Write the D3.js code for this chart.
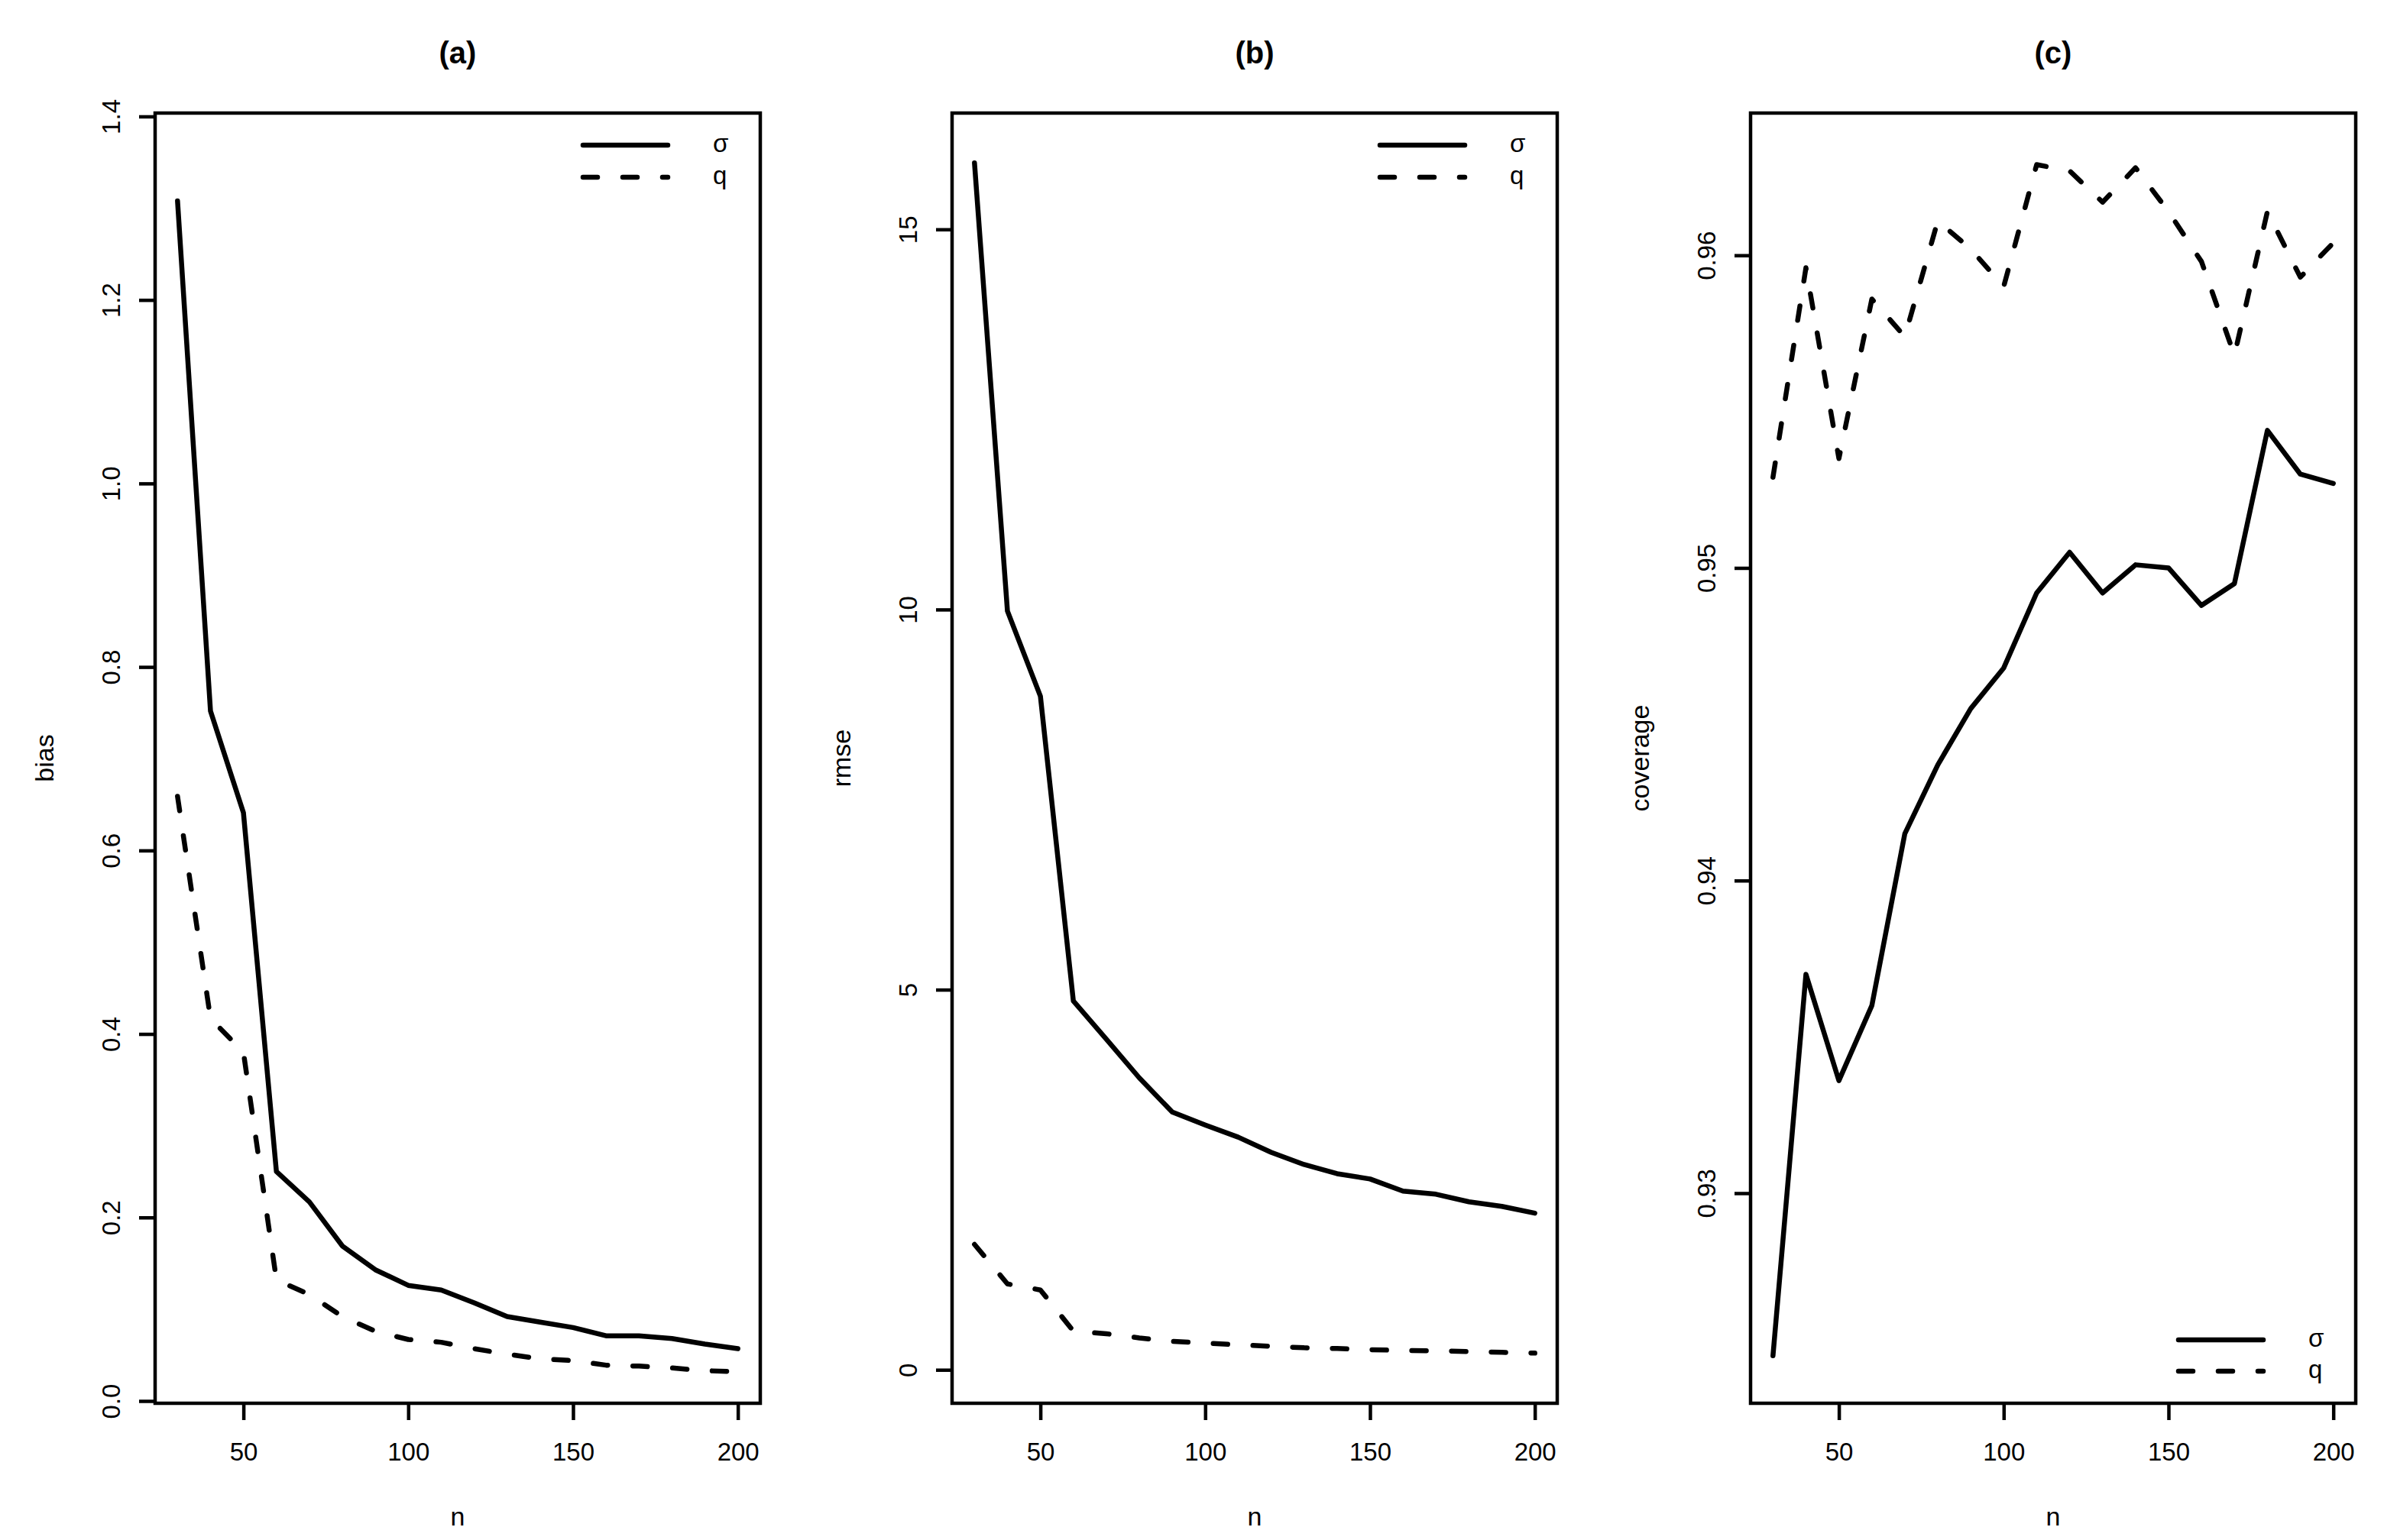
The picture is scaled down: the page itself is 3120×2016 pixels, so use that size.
<!DOCTYPE html>
<html>
<head>
<meta charset="utf-8">
<script src="https://cdn.jsdelivr.net/npm/d3@7"></script>
<style>
  body { margin: 0; background: #fff; }
  svg { display: block; font-family: 'Liberation Sans', Arial, sans-serif; }
</style>
</head>
<body>
<script>
// sample sizes (x axis)
const n = [30, 40, 50, 60, 70, 80, 90, 100, 110, 120, 130, 140, 150, 160, 170, 180, 190, 200];
const xTicks = [50, 100, 150, 200];

// panel (a) bias
const biasSigma = [1.308, 0.752, 0.641, 0.250, 0.217, 0.169, 0.143, 0.126, 0.121, 0.107, 0.092, 0.086, 0.080, 0.071, 0.071, 0.068, 0.062, 0.057];
const biasQ = [0.659, 0.417, 0.380, 0.132, 0.116, 0.092, 0.076, 0.067, 0.064, 0.057, 0.051, 0.046, 0.044, 0.039, 0.038, 0.036, 0.033, 0.032];

// panel (b) rmse
const rmseSigma = [15.875, 9.98, 8.86, 4.85, 4.35, 3.84, 3.39, 3.22, 3.06, 2.86, 2.70, 2.58, 2.51, 2.35, 2.31, 2.21, 2.15, 2.06];
const rmseQ = [1.65, 1.13, 1.05, 0.51, 0.475, 0.42, 0.375, 0.35, 0.33, 0.31, 0.29, 0.28, 0.265, 0.255, 0.25, 0.24, 0.23, 0.22];

// panel (c) coverage
const covSigma = [0.9248, 0.9370, 0.9336, 0.9360, 0.9415, 0.9437, 0.9455, 0.9468, 0.9492, 0.9505, 0.9492, 0.9501, 0.9500, 0.9488, 0.9495, 0.9544, 0.9530, 0.9527];
const covQ = [0.9529, 0.9596, 0.9535, 0.9586, 0.9574, 0.9611, 0.9602, 0.9590, 0.9629, 0.9627, 0.9617, 0.9628, 0.9614, 0.9598, 0.9568, 0.9614, 0.9593, 0.9604];

const titles = ['(a)', '(b)', '(c)'];
const yLabels = ['bias', 'rmse', 'coverage'];
const yTicksA = [0, 0.2, 0.4, 0.6, 0.8, 1.0, 1.2, 1.4];
const yTicksB = [0, 5, 10, 15];
const yTicksC = [0.93, 0.94, 0.95, 0.96];
const legendLabels = ['σ', 'q'];

const W = 3120, H = 2016;
const plotTop = 148, plotBottom = 1837, plotW = 792;
const lw = 6.5, boxW = 4.5;
const dash = '19 33';

const svg = d3.select('body').append('svg').attr('width', W).attr('height', H);
svg.append('rect').attr('width', W).attr('height', H).attr('fill', '#fff');

const panels = [
  { left: 203, domain: [-0.0025, 1.4037], ticks: yTicksA, fmt: d3.format('.1f'), sigma: biasSigma, q: biasQ, legend: 'top' },
  { left: 1246, domain: [-0.44, 16.53], ticks: yTicksB, fmt: d3.format('d'), sigma: rmseSigma, q: rmseQ, legend: 'top' },
  { left: 2291, domain: [0.92328, 0.96455], ticks: yTicksC, fmt: d3.format('.2f'), sigma: covSigma, q: covQ, legend: 'bottom' }
];

panels.forEach(function (p, k) {
  var g = svg.append('g').attr('transform', 'translate(' + p.left + ',0)');
  var x = d3.scaleLinear().domain([23.2, 206.8]).range([0, plotW]);
  var y = d3.scaleLinear().domain(p.domain).range([plotBottom, plotTop]);

  // x axis
  var xa = g.append('g')
    .attr('transform', 'translate(0,' + plotBottom + ')')
    .call(d3.axisBottom(x).tickValues(xTicks).tickSize(22).tickSizeOuter(0));
  xa.select('.domain').remove();
  xa.attr('font-family', null).attr('font-size', null);
  xa.selectAll('line').attr('stroke', '#000').attr('stroke-width', boxW);
  xa.selectAll('text')
    .attr('y', 75).attr('dy', 0)
    .attr('fill', '#000')
    .style('font-size', '33px');

  // y axis, labels turned like R (las = 0)
  var ya = g.append('g')
    .call(d3.axisLeft(y).tickValues(p.ticks).tickFormat(p.fmt).tickSize(21).tickSizeOuter(0));
  ya.select('.domain').remove();
  ya.attr('font-family', null).attr('font-size', null);
  ya.selectAll('line').attr('stroke', '#000').attr('stroke-width', boxW);
  ya.selectAll('text')
    .attr('x', 0).attr('dy', 0)
    .attr('text-anchor', 'middle')
    .attr('transform', 'translate(-46,0) rotate(-90)')
    .attr('fill', '#000')
    .style('font-size', '33px');

  // box
  g.append('rect')
    .attr('x', 0).attr('y', plotTop)
    .attr('width', plotW).attr('height', plotBottom - plotTop)
    .attr('fill', 'none').attr('stroke', '#000').attr('stroke-width', boxW);

  // lines
  var line = d3.line()
    .x(function (d, i) { return x(n[i]); })
    .y(function (d) { return y(d); });

  g.append('path')
    .datum(p.sigma)
    .attr('d', line)
    .attr('fill', 'none').attr('stroke', '#000')
    .attr('stroke-width', lw)
    .attr('stroke-linecap', 'round').attr('stroke-linejoin', 'round');

  g.append('path')
    .datum(p.q)
    .attr('d', line)
    .attr('fill', 'none').attr('stroke', '#000')
    .attr('stroke-width', lw)
    .attr('stroke-dasharray', dash)
    .attr('stroke-linecap', 'round').attr('stroke-linejoin', 'round');

  // titles
  g.append('text')
    .attr('x', plotW / 2).attr('y', 83)
    .attr('text-anchor', 'middle')
    .attr('font-weight', 'bold')
    .style('font-size', '40px')
    .text(titles[k]);

  g.append('text')
    .attr('x', plotW / 2).attr('y', 1997)
    .attr('text-anchor', 'middle')
    .style('font-size', '34px')
    .text('n');

  g.append('text')
    .attr('transform', 'translate(-133,' + (plotTop + plotBottom) / 2 + ') rotate(-90)')
    .attr('text-anchor', 'middle')
    .style('font-size', '34px')
    .text(yLabels[k]);

  // legend
  var rows = p.legend === 'top'
    ? [plotTop + 42, plotTop + 84]
    : [plotBottom - 83, plotBottom - 42];
  legendLabels.forEach(function (lab, j) {
    g.append('line')
      .attr('x1', plotW - 232).attr('x2', plotW - 121)
      .attr('y1', rows[j]).attr('y2', rows[j])
      .attr('stroke', '#000').attr('stroke-width', lw)
      .attr('stroke-linecap', 'round')
      .attr('stroke-dasharray', j === 1 ? dash : null);
    g.append('text')
      .attr('x', plotW - 62).attr('y', rows[j] + 9)
      .style('font-size', '33px')
      .text(lab);
  });
});
</script>
</body>
</html>
